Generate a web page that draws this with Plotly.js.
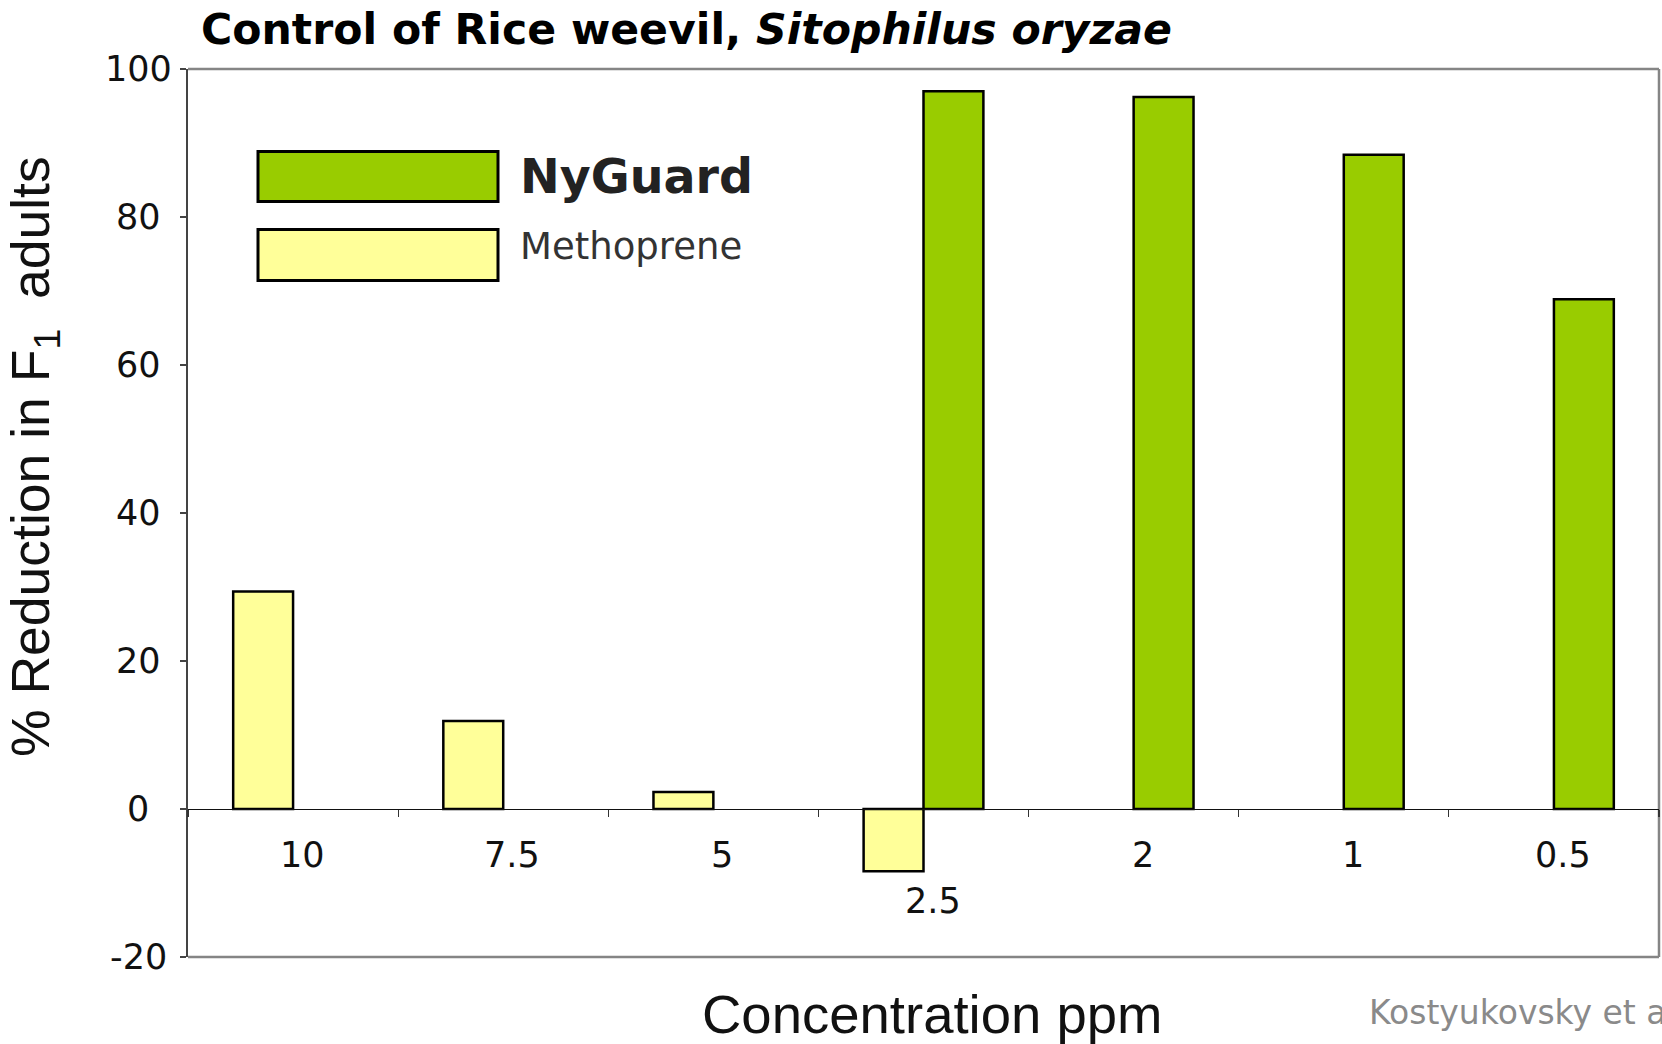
<!DOCTYPE html>
<html><head><meta charset="utf-8">
<script src="https://cdn.plot.ly/plotly-3.0.1.min.js"></script>
<style>html,body{margin:0;padding:0;background:#fff}#chart{width:1662px;height:1044px}</style>
</head><body><div id="chart"></div>
<script>
// ---- data ----
const concentrations = ['10', '7.5', '5', '2.5', '2', '1', '0.5'];
const methopreneValues = [29.4, 11.9, 2.3, -8.4, null, null, null];
const nyguardValues = [null, null, null, 97.0, 96.2, 88.4, 68.9];
const yTickValues = [-20, 0, 20, 40, 60, 80, 100];
const yTickLabels = ['-20', '0', '20', '40', '60', '80', '100'];
const seriesNames = ['NyGuard', 'Methoprene'];
const chartTitle = '<b>Control of Rice weevil, <i>Sitophilus oryzae</i></b>';
const xTitle = 'Concentration ppm';
const yTitle = '% Reduction in F<sub>1</sub>  adults';
const sourceNote = 'Kostyukovsky et al.';

// ---- layout helpers ----
const FW = 1662, FH = 1044;
const M = {l: 188, r: 3, t: 69, b: 87};
const PW = FW - M.l - M.r, PH = FH - M.t - M.b;
const px = x => (x - M.l) / PW;
const py = y => (FH - M.b - y) / PH;
const GREEN = '#99CC00', YELLOW = '#FFFF99';
const TICKFONT = {family: 'DejaVu Sans, Verdana, sans-serif', size: 35, color: '#111'};

const traces = [
  {type: 'bar', name: seriesNames[1], x: concentrations, y: methopreneValues,
   marker: {color: YELLOW, line: {color: '#000', width: 2.5}}, showlegend: false},
  {type: 'bar', name: seriesNames[0], x: concentrations, y: nyguardValues,
   marker: {color: GREEN, line: {color: '#000', width: 2.5}}, showlegend: false}
];

const annotations = [];
// y tick labels (centered, as in the original)
yTickValues.forEach((v, i) => annotations.push({
  xref: 'paper', yref: 'y', x: 0, y: v, xshift: -50, xanchor: 'center', yanchor: 'middle',
  text: yTickLabels[i], showarrow: false, font: TICKFONT
}));
// category labels next to the zero axis (x given as category index)
concentrations.forEach((c, i) => {
  const low = Math.min(0, methopreneValues[i] ?? 0, nyguardValues[i] ?? 0);
  annotations.push({
    xref: 'x', yref: 'y', x: i, y: low, xshift: 9, yshift: low < 0 ? -30 : -45.5,
    xanchor: 'center', yanchor: 'middle', text: c, showarrow: false, font: TICKFONT
  });
});
// axis titles
annotations.push({xref: 'paper', yref: 'paper', x: px(34), y: py(457), textangle: -90,
  xanchor: 'center', yanchor: 'middle', text: yTitle, showarrow: false,
  font: {family: 'Liberation Sans, Arial, sans-serif', size: 53.5, color: '#111'}});
annotations.push({xref: 'paper', yref: 'paper', x: px(932), y: py(1014),
  xanchor: 'center', yanchor: 'middle', text: xTitle, showarrow: false,
  font: {family: 'Liberation Sans, Arial, sans-serif', size: 54.5, color: '#111'}});
annotations.push({xref: 'paper', yref: 'paper', x: px(1367), y: py(1012),
  xanchor: 'left', yanchor: 'middle', text: sourceNote, showarrow: false,
  font: {family: 'DejaVu Sans, Verdana, sans-serif', size: 33, color: '#8a8a8a'}});
// legend text
annotations.push({xref: 'paper', yref: 'paper', x: px(518), y: py(176),
  xanchor: 'left', yanchor: 'middle', text: '<b>' + seriesNames[0] + '</b>', showarrow: false,
  font: {family: 'DejaVu Sans, Verdana, sans-serif', size: 47.5, color: '#222'}});
annotations.push({xref: 'paper', yref: 'paper', x: px(518), y: py(246),
  xanchor: 'left', yanchor: 'middle', text: seriesNames[1], showarrow: false,
  font: {family: 'DejaVu Sans, Verdana, sans-serif', size: 37, color: '#333'}});

const border = {color: '#858585', width: 2.5};
const shapes = [
  {type: 'line', xref: 'paper', yref: 'paper', x0: 0, x1: 1, y0: 1, y1: 1, line: border, layer: 'below'},
  {type: 'line', xref: 'paper', yref: 'paper', x0: 1, x1: 1, y0: 0, y1: 1, line: border, layer: 'below'},
  {type: 'line', xref: 'paper', yref: 'paper', x0: 0, x1: 1, y0: 0, y1: 0, line: border, layer: 'below'},
  // legend swatches
  {type: 'rect', xref: 'paper', yref: 'paper', x0: px(258), x1: px(498), y0: py(151.5), y1: py(201.5),
   fillcolor: GREEN, line: {color: '#000', width: 3}},
  {type: 'rect', xref: 'paper', yref: 'paper', x0: px(258), x1: px(498), y0: py(229.5), y1: py(280.5),
   fillcolor: YELLOW, line: {color: '#000', width: 3}}
];

const layout = {
  width: FW, height: FH, margin: M,
  paper_bgcolor: '#fff', plot_bgcolor: '#fff',
  title: {text: chartTitle, x: 201 / FW, xref: 'container', xanchor: 'left',
          y: 1 - 29 / FH, yref: 'container', yanchor: 'middle',
          font: {family: 'DejaVu Sans, Verdana, sans-serif', size: 42.6, color: '#000'}},
  barmode: 'group', bargap: 0.43, bargroupgap: 0,
  xaxis: {type: 'category', categoryorder: 'array', categoryarray: concentrations,
          range: [-0.5, concentrations.length - 0.5], autorange: false,
          anchor: 'free', position: (0 - (-20)) / 120,
          showline: true, linecolor: '#111', linewidth: 1.3,
          ticks: 'outside', tickson: 'boundaries', ticklen: 7, tickcolor: '#333', tickwidth: 1.2,
          showticklabels: false, showgrid: false, zeroline: false, fixedrange: true},
  yaxis: {range: [-20, 100], autorange: false, tickvals: yTickValues, showticklabels: false,
          showline: true, linecolor: '#444', linewidth: 2,
          ticks: 'outside', ticklen: 6, tickcolor: '#444', tickwidth: 1.5,
          showgrid: false, zeroline: false, fixedrange: true},
  annotations: annotations, shapes: shapes, showlegend: false
};

Plotly.newPlot('chart', traces, layout, {displayModeBar: false, staticPlot: true});
</script></body></html>
